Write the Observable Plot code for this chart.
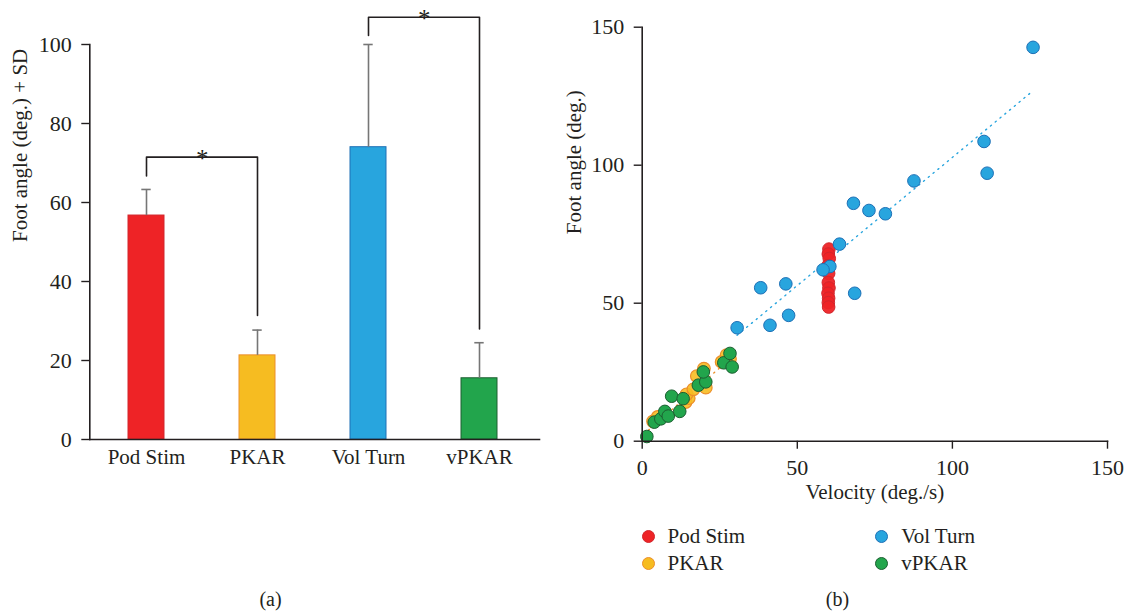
<!DOCTYPE html>
<html>
<head>
<meta charset="utf-8">
<script src="https://cdn.jsdelivr.net/npm/d3@7"></script>
<script src="https://cdn.jsdelivr.net/npm/@observablehq/plot@0.6"></script>
<style>
  html, body { margin: 0; padding: 0; background: #fff; }
  #wrap { position: relative; width: 1127px; height: 612px; background: #fff;
          font-family: "Liberation Serif", "DejaVu Serif", serif; color: #231f20; overflow: hidden; }
  #left { position: absolute; left: 0; top: 0; }
  #right { position: absolute; left: 560px; top: 0; }
  .cap { position: absolute; top: 588px; font-size: 20px; line-height: 23px; transform: translateX(-50%); }
  #legend { position: absolute; left: 641.5px; top: 522.5px; display: grid;
            grid-template-rows: 27px 27px; grid-auto-flow: column; grid-template-columns: 233.7px 200px; }
  .item { display: flex; align-items: center; font-size: 21px; white-space: nowrap; }
  .sw { width: 13px; height: 13px; border-radius: 50%; margin-right: 13px; box-sizing: border-box; border: 1px solid; }
</style>
</head>
<body>
<div id="wrap">
  <div id="left"></div>
  <div id="right"></div>
  <div id="legend"></div>
  <div class="cap" style="left:270.5px">(a)</div>
  <div class="cap" style="left:837.5px">(b)</div>
</div>
<script>
// ---------------- Data: panel (a) ----------------
const categories = ["Pod Stim", "PKAR", "Vol Turn", "vPKAR"];
const means = [56.7, 21.3, 74.0, 15.5];
const sds = [6.6, 6.4, 26.0, 9.0];
const yTicksA = [0, 20, 40, 60, 80, 100];
const yLabelA = "Foot angle (deg.) + SD";

const sigPairs = [["Pod Stim", "PKAR"], ["Vol Turn", "vPKAR"]];
const sigHeights = [71.5, 106.9];
const sigLeftEnds = [66.7, 102.3];
const sigRightEnds = [31.4, 28.0];
const sigLabels = ["*", "*"];

// ---------------- Data: panel (b) ----------------
const seriesNames = ["Pod Stim", "PKAR", "Vol Turn", "vPKAR"];
const podStimVel = [60.2, 60.0, 60.3, 59.9, 60.1, 60.0, 60.2, 59.9, 60.1, 60.0, 60.1];
const podStimAng = [69.6, 67.8, 66.2, 63.6, 60.8, 57.5, 55.5, 53.6, 51.8, 50.2, 48.6];
const pkarVel = [3.5, 5.0, 14.0, 15.0, 14.3, 17.6, 19.9, 20.5, 25.6, 28.3, 27.2, 16.5];
const pkarAng = [7.2, 8.8, 14.2, 15.6, 17.0, 23.6, 26.3, 19.4, 28.7, 29.8, 31.2, 18.8];
const volTurnVel = [126.0, 110.2, 111.2, 87.6, 68.1, 73.1, 78.4, 63.6, 60.5, 58.3, 46.3, 68.5, 47.2, 38.2, 41.2, 30.6];
const volTurnAng = [142.7, 108.6, 97.1, 94.3, 86.2, 83.6, 82.4, 71.4, 63.3, 62.1, 57.0, 53.6, 45.6, 55.6, 42.0, 41.1];
const vpkarVel = [1.5, 3.9, 6.0, 7.3, 8.4, 9.5, 12.1, 13.2, 18.1, 20.5, 19.7, 26.3, 29.0, 28.3];
const vpkarAng = [1.7, 6.9, 8.1, 10.8, 9.1, 16.3, 10.8, 15.4, 20.3, 21.5, 25.1, 28.4, 26.9, 31.8];
// dotted fit lines (start / end points)
const volTurnFitVel = [30.6, 125.5];
const volTurnFitAng = [38.4, 126.5];
const pkarFitVel = [2.0, 29.0];
const pkarFitAng = [4.0, 30.5];
const xTicksB = [0, 50, 100, 150];
const yTicksB = [0, 50, 100, 150];
const xLabelB = "Velocity (deg./s)";
const yLabelB = "Foot angle (deg.)";

// ---------------- Styles ----------------
const FONT = '"Liberation Serif", "DejaVu Serif", serif';
const INK = "#231f20";
const fills = ["#ee2326", "#f6bc21", "#28a5de", "#22a54c"];
const strokes = ["#d2262c", "#ec8f2b", "#1e70b6", "#1d5e31"];
const errColor = "#767676";
const TICKFONT = 22;

// ---------------- Panel (a) ----------------
const table = categories.map((c, i) => ({cat: c, mean: means[i], top: means[i] + sds[i]}));
const bracketPts = sigPairs.flatMap(([a, b], i) => [
  {pair: i, cat: a, v: sigLeftEnds[i]},
  {pair: i, cat: a, v: sigHeights[i]},
  {pair: i, cat: b, v: sigHeights[i]},
  {pair: i, cat: b, v: sigRightEnds[i]}
]);
const stars = sigPairs.map(([a, b], i) => ({from: a, h: sigHeights[i], label: sigLabels[i]}));

const bandRange = [89.3, 536];
const pIn = 0.672, pOut = 0.335;
const step = (bandRange[1] - bandRange[0]) / (categories.length - pIn + 2 * pOut);

const plotA = Plot.plot({
  width: 560, height: 480,
  marginLeft: 89.3, marginRight: 21, marginTop: 44, marginBottom: 41,
  style: {fontFamily: FONT, fontSize: "20px", color: INK, background: "transparent", overflow: "visible"},
  x: {domain: categories, range: bandRange, paddingInner: pIn, paddingOuter: pOut},
  y: {domain: [0, 100]},
  marks: [
    ...categories.map((c, i) => Plot.barY(table.filter(d => d.cat === c),
      {x: "cat", y: "mean", fill: fills[i], stroke: strokes[i], strokeWidth: 1})),
    Plot.ruleX(table, {x: "cat", y1: "mean", y2: "top", stroke: errColor, strokeWidth: 1.6}),
    Plot.tickY(table, {x: "cat", y: "top", stroke: errColor, strokeWidth: 1.6, insetLeft: 13.3, insetRight: 13.3}),
    Plot.line(bracketPts, {x: "cat", y: "v", z: "pair", stroke: INK, strokeWidth: 1.6}),
    Plot.text(stars, {x: "from", y: "h", text: "label", dx: step / 2, dy: 10, lineAnchor: "bottom",
      fontSize: 25, fill: INK, fontFamily: FONT}),
    Plot.axisY({ticks: yTicksA, tickSize: 8, tickPadding: 10, label: null, fontSize: TICKFONT, stroke: INK, strokeWidth: 1.4}),
    Plot.axisX({tickSize: 0, tickPadding: 10, label: null, fontSize: 21}),
    Plot.frame({anchor: "left", stroke: INK, strokeWidth: 1.6}),
    Plot.frame({anchor: "bottom", stroke: INK, strokeWidth: 1.6}),
    Plot.text([yLabelA], {text: d => d, frameAnchor: "left", rotate: -90, dx: -69.3, fontSize: 21, fill: INK, fontFamily: FONT})
  ]
});
document.getElementById("left").appendChild(plotA);

// ---------------- Panel (b) ----------------
const toPts = (xs, ys) => xs.map((v, i) => ({vel: v, ang: ys[i]}));
const seriesPts = [
  toPts(podStimVel, podStimAng),
  toPts(pkarVel, pkarAng),
  toPts(volTurnVel, volTurnAng),
  toPts(vpkarVel, vpkarAng)
];
const plotB = Plot.plot({
  width: 567, height: 520,
  marginLeft: 81.7, marginRight: 20, marginTop: 26.7, marginBottom: 79.3,
  style: {fontFamily: FONT, fontSize: "20px", color: INK, background: "transparent", overflow: "visible"},
  x: {domain: [0, 150]},
  y: {domain: [0, 150]},
  marks: [
    Plot.line(toPts(pkarFitVel, pkarFitAng), {x: "vel", y: "ang", stroke: "#ec8f2b", strokeWidth: 1.4, strokeDasharray: "1.2,5"}),
    Plot.line(toPts(volTurnFitVel, volTurnFitAng), {x: "vel", y: "ang", stroke: "#28a5de", strokeWidth: 1.4, strokeDasharray: "1.2,5"}),
    Plot.dot(seriesPts[0], {x: "vel", y: "ang", r: 6.3, fill: fills[0], stroke: strokes[0], strokeWidth: 1, fillOpacity: 0.95}),
    Plot.dot(seriesPts[1], {x: "vel", y: "ang", r: 6.3, fill: fills[1], stroke: strokes[1], strokeWidth: 1.2, fillOpacity: 0.9}),
    Plot.dot(seriesPts[2], {x: "vel", y: "ang", r: 6.3, fill: fills[2], stroke: strokes[2], strokeWidth: 1}),
    Plot.dot(seriesPts[3], {x: "vel", y: "ang", r: 6.3, fill: fills[3], stroke: strokes[3], strokeWidth: 1}),
    Plot.axisX({ticks: xTicksB, tickSize: 8, tickPadding: 10, label: null, fontSize: TICKFONT, stroke: INK, strokeWidth: 1.4}),
    Plot.axisY({ticks: yTicksB, tickSize: 8, tickPadding: 10, label: null, fontSize: TICKFONT, stroke: INK, strokeWidth: 1.4}),
    Plot.frame({anchor: "left", stroke: INK, strokeWidth: 1.6}),
    Plot.frame({anchor: "bottom", stroke: INK, strokeWidth: 1.6}),
    Plot.text([xLabelB], {text: d => d, frameAnchor: "bottom", dy: 57.3, fontSize: 21, fill: INK, fontFamily: FONT}),
    Plot.text([yLabelB], {text: d => d, frameAnchor: "left", rotate: -90, dx: -68.4, fontSize: 21, fill: INK, fontFamily: FONT})
  ]
});
document.getElementById("right").appendChild(plotB);

// ---------------- Legend (b) ----------------
const legend = document.getElementById("legend");
seriesNames.forEach((name, i) => {
  const item = document.createElement("div");
  item.className = "item";
  const sw = document.createElement("span");
  sw.className = "sw";
  sw.style.background = fills[i];
  sw.style.borderColor = strokes[i];
  item.appendChild(sw);
  item.appendChild(document.createTextNode(name));
  legend.appendChild(item);
});
</script>
</body>
</html>
